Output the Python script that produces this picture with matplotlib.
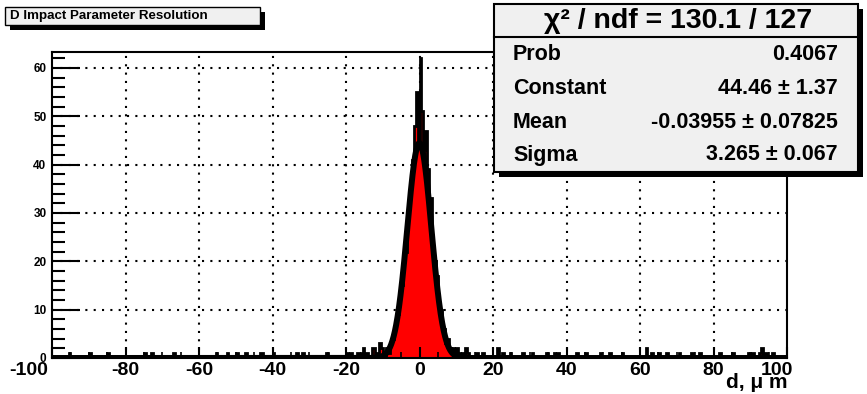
import numpy as np
import matplotlib
matplotlib.use("Agg")
import matplotlib.pyplot as plt
from matplotlib.patches import Rectangle
from matplotlib.transforms import ScaledTranslation

plt.rcParams['font.family'] = ['Liberation Sans', 'DejaVu Sans']
plt.rcParams['font.weight'] = 'bold'
plt.rcParams['axes.unicode_minus'] = False

# histogram: 400 bins of 0.5 um between -100 and 100
bin_width = 0.5
x_lo, x_hi = -100, 100
# counts of the core bins, first bin starts at -10
core_start = -10
core_counts = [1, 0, 2, 1, 3, 4, 6, 7, 9, 13,
               15, 21, 22, 28, 31, 36, 41, 48, 55, 44,
               62, 51, 43, 47, 39, 30, 33, 22, 20, 17,
               11, 10, 7, 6, 3, 4, 2, 1, 2, 0]
# isolated tail entries
tail_x = [-95.2, -89.8, -84.9, -74.8, -72.7, -66.7, -55.2, -52.5, -49.8, -47.1,
          -43.5, -42.7, -40.0, -33.5, -31.8, -25.3, -19.9, -19.0, -16.9, -15.8,
          -15.3, -14.4, -13.0, -12.2, -11.4, -10.9, -10.4,
          10.3, 10.8, 11.6, 12.8, 13.4, 15.5, 17.2, 21.2, 22.6, 24.5, 28.0, 30.7,
          34.8, 36.7, 37.6, 42.7, 45.4, 49.0, 51.7, 55.2, 61.8, 63.1, 65.3,
          67.2, 70.7, 74.0, 76.2, 81.6, 85.2, 89.8, 90.6, 92.5, 93.3, 94.4, 96.0]
tail_n = [1, 1, 1, 1, 1, 1, 1, 1, 1, 1,
          1, 1, 1, 1, 1, 1, 1, 1, 1, 1,
          2, 1, 2, 2, 1, 3, 2,
          2, 1, 1, 2, 1, 1, 1, 2, 1, 1, 1, 1,
          1, 1, 1, 1, 1, 1, 1, 1, 2, 1, 1,
          1, 1, 1, 1, 1, 1, 1, 1, 1, 2, 1, 1]

# fit result
chi2, ndf, prob = 130.1, 127, 0.4067
const, const_err = 44.46, 1.37
mean, mean_err = -0.03955, 0.07825
sigma, sigma_err = 3.265, 0.067

title = "D Impact Parameter Resolution"
xlabel = "d, \u03bc m"

edges = np.arange(x_lo, x_hi + bin_width / 2, bin_width)
counts = np.zeros(len(edges) - 1)
i0 = int(round((core_start - x_lo) / bin_width))
counts[i0:i0 + len(core_counts)] = core_counts
for xv, n in zip(tail_x, tail_n):
    counts[int((xv - x_lo) // bin_width)] += n

W, H = 867, 394
fig = plt.figure(figsize=(W / 100, H / 100), dpi=100)
ax = fig.add_axes([52 / W, 36 / H, (787 - 52) / W, (358 - 52) / H])

ax.stairs(counts, edges, fill=True, facecolor='#ff0000', edgecolor='none', zorder=1)
ax.stairs(counts, edges, color='black', linewidth=2.0, zorder=1.2)

xf = np.linspace(x_lo, x_hi, 3000)
yf = const * np.exp(-0.5 * ((xf - mean) / sigma) ** 2)
ax.plot(xf, yf, color='black', linewidth=4.3, zorder=2, solid_capstyle='butt')

ax.set_xlim(x_lo, x_hi)
ax.set_ylim(0, 63.3)

xt = np.arange(-100, 101, 20)
yt = np.arange(0, 61, 10)
for v in xt[1:-1]:
    ax.axvline(v, color='black', linewidth=1.5, linestyle=(0, (1, 3)), zorder=0.5)
for v in yt[1:]:
    ax.axhline(v, color='black', linewidth=1.5, linestyle=(0, (1, 3)), zorder=0.5)

ax.set_xticks(xt)
ax.set_xticks(np.arange(-100, 101, 5), minor=True)
ax.set_yticks(yt)
ax.set_yticks(np.arange(0, 63, 2), minor=True)
ax.tick_params(axis='both', which='both', direction='in', top=False, right=False, color='black')
ax.tick_params(axis='x', which='major', length=8, width=1.5, labelsize=14, pad=3)
ax.tick_params(axis='x', which='minor', length=4, width=1.2)
ax.tick_params(axis='y', which='major', length=20, width=1.5, labelsize=8.5, pad=4)
ax.tick_params(axis='y', which='minor', length=9, width=1.5)
ax.set_xticklabels([str(v) for v in xt], fontweight='bold')
ax.set_yticklabels([str(v) for v in yt], fontweight='bold')
xlabs = ax.get_xticklabels()
xlabs[0].set_transform(xlabs[0].get_transform() + ScaledTranslation(-0.23, 0, fig.dpi_scale_trans))
xlabs[-1].set_transform(xlabs[-1].get_transform() + ScaledTranslation(-0.10, 0, fig.dpi_scale_trans))
for sp in ax.spines.values():
    sp.set_linewidth(1.5)


def fx(px):
    return px / W


def fy(py):
    return 1 - py / H


fig.text(fx(787), fy(383), xlabel, ha='right', va='center', fontsize=15, fontweight='bold')

# title box with shadow
fig.add_artist(Rectangle((fx(10), fy(30)), fx(265) - fx(10), fy(12) - fy(30),
                         transform=fig.transFigure, facecolor='black', edgecolor='none'))
fig.add_artist(Rectangle((fx(5), fy(25)), fx(260) - fx(5), fy(7) - fy(25),
                         transform=fig.transFigure, facecolor='#f0f0f0', edgecolor='black',
                         linewidth=1.0))
fig.text(fx(10), fy(16), title, fontsize=9.6, fontweight='bold', va='center', ha='left')

# stats box with shadow
fig.add_artist(Rectangle((fx(499), fy(177)), fx(863) - fx(499), fy(9) - fy(177),
                         transform=fig.transFigure, facecolor='black', edgecolor='none', zorder=5))
fig.add_artist(Rectangle((fx(494), fy(172)), fx(858) - fx(494), fy(4) - fy(172),
                         transform=fig.transFigure, facecolor='#f0f0f0', edgecolor='black',
                         linewidth=1.5, zorder=6))
fig.add_artist(plt.Line2D([fx(494), fx(858)], [fy(37), fy(37)], transform=fig.transFigure,
                          color='black', linewidth=1.5, zorder=7))
fig.text((fx(494) + fx(858)) / 2 + 0.002, fy(21), "\u03c7\u00b2 / ndf = %.1f / %d" % (chi2, ndf),
         fontsize=20.5, fontweight='bold', ha='center', va='center', zorder=8)
rows = [("Prob", "%.4f" % prob),
        ("Constant", "%.2f \u00b1 %.2f" % (const, const_err)),
        ("Mean", "%.5f \u00b1 %.5f" % (mean, mean_err)),
        ("Sigma", "%.3f \u00b1 %.3f" % (sigma, sigma_err))]
row_y = [55, 88, 122, 155]
for (lab, val), ry in zip(rows, row_y):
    fig.text(fx(513), fy(ry), lab, fontsize=15.5, fontweight='bold', ha='left', va='center', zorder=8)
    fig.text(fx(838), fy(ry), val, fontsize=15.5, fontweight='bold', ha='right', va='center', zorder=8)

fig.savefig("out.png", dpi=100)
